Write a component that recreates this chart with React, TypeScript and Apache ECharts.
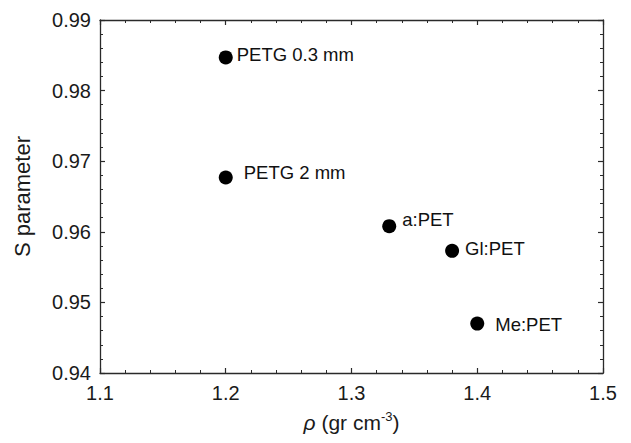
import React, { useEffect, useRef } from "react";
import * as echarts from "echarts";

const names = ["PETG 0.3 mm", "PETG 2 mm", "a:PET", "Gl:PET", "Me:PET"];
const densities = [1.2, 1.2, 1.33, 1.38, 1.4];
const sParams = [0.9847, 0.9677, 0.9608, 0.9573, 0.947];
const xTicks = [1.1, 1.5];
const yTicks = [0.94, 0.99];

// label layout (style, not data)
const labelLayout = [
  { distance: 4, dy: -3 },
  { distance: 11, dy: -5 },
  { distance: 6, dy: -7 },
  { distance: 6, dy: -2 },
  { distance: 11, dy: 1 },
];

const FONT = "Liberation Sans, Arial, sans-serif";
const AX = "#2a2a2a";

export default function App() {
  const ref = useRef<HTMLDivElement>(null);
  useEffect(() => {
    document.body.style.margin = "0";
    if (!ref.current) return;
    const chart = echarts.init(ref.current, null, { renderer: "svg" });
    const axisCommon = {
      axisLine: { show: true, lineStyle: { color: AX, width: 1.3 } },
      axisTick: { show: true, inside: true, length: 5, lineStyle: { color: AX, width: 1.2 } },
      minorTick: { show: true, splitNumber: 5, length: 3, lineStyle: { color: AX, width: 1 } },
      splitLine: { show: false },
    };
    chart.setOption({
      animation: false,
      backgroundColor: "#fff",
      grid: { left: 100, right: 28, top: 20, bottom: 70, containLabel: false },
      xAxis: [
        {
          type: "value",
          min: xTicks[0],
          max: xTicks[1],
          interval: 0.1,
          ...axisCommon,
          axisLabel: {
            margin: 10,
            fontSize: 20,
            color: "#1a1a1a",
            fontFamily: FONT,
            formatter: (v: number) => v.toFixed(1),
          },
          name: "{i|ρ} (gr cm{s|-3})",
          nameLocation: "middle",
          nameGap: 37,
          nameTextStyle: {
            fontSize: 21,
            color: "#1a1a1a",
            fontFamily: FONT,
            rich: {
              i: { fontSize: 21, fontStyle: "italic", fontFamily: FONT, color: "#1a1a1a" },
              s: { fontSize: 13, fontFamily: FONT, color: "#1a1a1a", padding: [0, 0, 12, 0] },
            },
          },
        },
        {
          type: "value",
          position: "top",
          min: xTicks[0],
          max: xTicks[1],
          interval: 0.1,
          ...axisCommon,
          axisLabel: { show: false },
        },
      ],
      yAxis: [
        {
          type: "value",
          min: yTicks[0],
          max: yTicks[1],
          interval: 0.01,
          ...axisCommon,
          axisLabel: {
            margin: 9,
            fontSize: 20,
            color: "#1a1a1a",
            fontFamily: FONT,
            formatter: (v: number) => v.toFixed(2),
          },
          name: "S parameter",
          nameLocation: "middle",
          nameGap: 67,
          nameTextStyle: { fontSize: 22, color: "#1a1a1a", fontFamily: FONT },
        },
        {
          type: "value",
          position: "right",
          min: yTicks[0],
          max: yTicks[1],
          interval: 0.01,
          ...axisCommon,
          axisLabel: { show: false },
        },
      ],
      series: [
        {
          type: "scatter",
          symbol: "circle",
          symbolSize: 14,
          itemStyle: { color: "#000", opacity: 1 },
          data: names.map((n, i) => ({
            name: n,
            value: [densities[i], sParams[i]],
            label: {
              show: true,
              position: "right",
              distance: labelLayout[i].distance,
              offset: [0, labelLayout[i].dy],
              formatter: n,
              fontSize: 18.5,
              color: "#111",
              fontFamily: FONT,
            },
          })),
        },
      ],
    });
    return () => chart.dispose();
  }, []);
  return <div ref={ref} style={{ width: 631, height: 443 }} />;
}
